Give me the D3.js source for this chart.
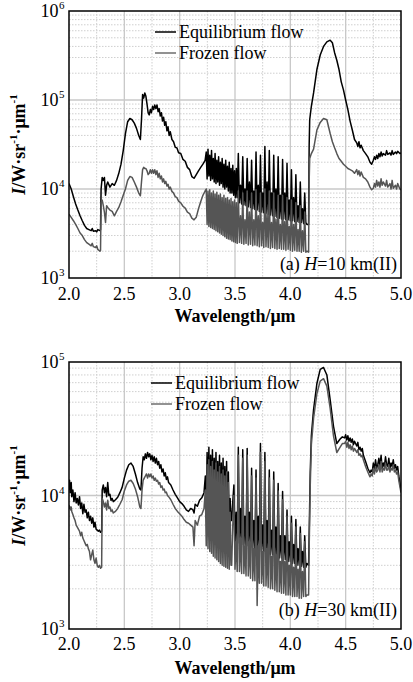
<!DOCTYPE html>
<html><head><meta charset="utf-8">
<script src="https://cdn.jsdelivr.net/npm/d3@7/dist/d3.min.js"></script>
<style>
body{margin:0;background:#fff}
svg{display:block}
text{font-family:"Liberation Serif","Times New Roman",serif;fill:#000}
</style>
</head><body>
<svg id="c" width="413" height="682"></svg>
<script>
// ---------- tick labels / text ----------
const xTicks = [2.0, 2.5, 3.0, 3.5, 4.0, 4.5, 5.0];
const xMinor = [2.25, 2.75, 3.25, 3.75, 4.25, 4.75];
const xTickLabels = ["2.0", "2.5", "3.0", "3.5", "4.0", "4.5", "5.0"];
const expsA = [3, 4, 5, 6];
const expsB = [3, 4, 5];
const seriesNames = ["Equilibrium flow", "Frozen flow"];
const panelTags = ["(a)", "(b)"];
const panelAlt = ["10", "30"];

// ---------- panel (a): H = 10 km ----------
const wlA = [
 2.00,2.02,2.04,2.06,2.08,2.10,2.12,2.14,2.16,2.18,
 2.20,2.21,2.22,2.24,2.25,2.26,2.28,2.285,2.29,2.30,
 2.31,2.32,2.33,2.34,2.35,2.37,2.39,2.41,2.43,2.45,
 2.47,2.49,2.51,2.53,2.55,2.57,2.59,2.61,2.63,2.645,
 2.655,2.665,2.675,2.685,2.695,2.705,2.715,2.725,2.735,2.745,
 2.755,2.765,2.775,2.785,2.795,2.805,2.815,2.825,2.835,2.845,
 2.855,2.865,2.875,2.885,2.895,2.905,2.915,2.93,2.945,2.96,
 2.975,2.99,3.01,3.03,3.05,3.07,3.09,3.11,3.13,3.15,
 3.17,3.19,3.21,3.23,
 3.240,3.248,3.256,3.264,3.272,3.280,3.288,3.296,3.304,3.312,
 3.320,3.328,3.336,3.344,3.352,3.360,3.368,3.376,3.384,3.392,
 3.400,3.408,3.416,3.424,3.432,3.440,3.448,3.456,3.464,3.472,
 3.480,3.488,3.496,3.504,3.512,3.520,
 3.53,3.54,3.55,3.56,3.57,3.58,3.59,3.60,3.61,3.62,
 3.63,3.64,3.65,3.66,3.67,3.68,3.69,3.70,3.71,3.72,
 3.73,3.74,3.75,3.76,3.77,3.78,3.79,3.80,3.81,3.82,
 3.83,3.84,3.85,3.86,3.87,3.88,3.89,3.90,3.91,3.92,
 3.93,3.94,3.95,3.96,3.97,3.98,3.99,4.00,4.01,4.02,
 4.03,4.04,4.05,4.06,4.07,4.08,4.09,4.10,4.11,4.12,
 4.13,4.14,4.15,4.165,
 4.17,4.175,4.19,4.21,4.24,4.27,4.30,4.33,4.36,4.38,
 4.40,4.42,4.44,4.46,4.48,4.50,4.52,4.54,4.56,4.58,
 4.60,4.61,4.62,4.63,4.64,4.66,4.68,4.70,4.72,4.735,
 4.75,4.76,4.77,4.78,4.79,4.80,4.81,4.82,4.83,4.84,
 4.86,4.87,4.88,4.90,4.91,4.92,4.93,4.95,4.96,4.97,
 4.99,5.00
];
const eqA = [
 11500,10000,8200,6800,5800,5000,4400,3900,3600,3500,
 3400,3600,3350,3400,3300,3500,3400,3500,10000,13500,
 12500,13500,8500,11000,12000,10500,11500,11000,12500,15000,
 19000,27000,42000,57000,62000,60000,55000,48000,40000,36000,
 60000,115000,105000,120000,110000,90000,72000,68000,78000,72000,
 85000,78000,88000,80000,88000,74000,80000,66000,72000,58000,
 64000,52000,57000,45000,50000,40000,44000,36000,34000,29500,
 29000,25500,25000,21500,20500,17500,16500,13800,13200,14500,
 16000,17500,19000,21000,
 26000,13000,28000,14000,24000,12500,27000,13000,22000,12000,
 25000,11500,21000,12000,23000,11000,20000,11500,22000,10500,
 19000,10000,21000,10500,18000,9500,20000,9000,17000,9000,
 18500,8500,16000,8000,17000,8000,
 25000,7000,11000,6800,23000,6600,10000,6500,22000,6300,
 12000,6200,21000,6000,9500,5900,26000,5800,11000,5600,
 24000,5500,9000,5400,30000,5300,12000,5200,27000,5100,
 9000,5000,24000,4900,10000,4800,23000,4700,8500,4600,
 21500,4600,9000,4500,19500,4500,7500,4400,16500,4400,
 8000,4300,14500,4300,6500,4200,12000,4200,6000,4100,
 9000,4200,4000,4000,
 30000,60000,85000,120000,220000,320000,400000,450000,470000,440000,
 340000,280000,220000,160000,130000,100000,78000,58000,46000,36000,
 33000,30000,34000,29000,31000,27000,25000,23000,20000,19000,
 21000,23000,21500,24000,22000,25000,23000,26000,23500,25000,
 24000,27000,24500,25500,24000,27000,24500,26000,25000,26500,
 25000,25500
];
const frA = [
 5200,4800,4400,4000,3600,3200,3000,2700,2500,2400,
 2300,2450,2250,2200,2300,2100,2000,2050,7000,7500,
 6500,5500,4200,6500,6200,5800,5600,5000,5600,6200,
 7200,8500,10000,12500,13800,13500,12000,10500,9000,8400,
 12000,16500,17500,17000,17000,16000,14500,15000,16500,15000,
 16500,15000,16500,14500,16000,13500,15000,13000,14000,12000,
 13000,11500,12200,10800,11300,10000,10500,9400,9000,8200,
 8000,7300,7000,6400,6100,5500,5300,4700,4500,4800,
 6000,7200,8500,9500,
 10000,4000,9500,3800,9800,3700,9000,3600,9500,3500,
 8800,3400,9200,3300,8500,3200,8800,3100,8000,3000,
 8500,2900,7800,2800,8000,2750,7500,2700,7800,2600,
 7200,2550,7500,2500,7000,2450,
 9500,2500,5000,2450,9000,2400,4500,2450,9500,2350,
 5500,2400,9000,2300,4500,2350,9800,2300,5000,2250,
 9000,2300,4200,2200,10000,2250,5200,2200,9500,2150,
 4200,2200,9000,2150,4600,2100,8500,2150,4000,2100,
 8500,2100,4300,2050,8000,2100,3800,2050,7500,2000,
 4000,2050,7000,2000,3500,2000,6500,1950,3400,2000,
 5500,1950,2000,1950,
 12000,22000,25000,28000,46000,56000,62000,60000,42000,34000,
 29000,25000,22000,20500,19000,18000,17000,16500,16000,15000,
 16500,14500,16000,14000,15500,13500,13000,12000,10500,9800,
 10200,11500,10500,12500,10800,12000,10500,13000,11000,12000,
 10800,12500,10500,11500,10000,12500,10200,11000,10000,11500,
 10000,9800
];

// ---------- panel (b): H = 30 km ----------
const wlB = [
 2.000,2.005,2.010,2.015,2.020,2.025,2.035,2.045,2.055,2.065,
 2.075,2.085,2.095,2.105,2.115,2.125,2.135,2.145,2.155,2.165,
 2.175,2.185,2.195,2.205,2.215,2.225,2.235,2.245,2.255,2.265,
 2.275,2.285,2.295,2.300,2.31,2.32,2.33,2.34,2.35,2.36,
 2.37,2.38,2.39,2.40,2.42,2.44,2.46,2.48,2.50,2.52,
 2.54,2.56,2.58,2.60,2.62,2.64,2.65,2.66,2.67,2.68,
 2.69,2.70,2.71,2.72,2.73,2.74,2.75,2.76,2.77,2.78,
 2.79,2.80,2.81,2.82,2.83,2.84,2.85,2.86,2.87,2.88,
 2.89,2.90,2.92,2.94,2.96,2.98,3.00,3.02,3.04,3.06,
 3.08,3.10,3.12,3.13,3.14,3.16,3.18,3.20,3.22,
 3.232,3.240,3.248,3.256,3.264,3.272,3.280,3.288,3.296,3.304,
 3.312,3.320,3.328,3.336,3.344,3.352,3.360,3.368,3.376,3.384,
 3.392,3.400,3.408,3.416,3.424,3.432,3.440,3.448,3.456,3.464,
 3.47,3.48,3.49,3.50,3.51,3.52,3.53,3.54,3.55,3.56,
 3.57,3.58,3.59,3.60,3.61,3.62,3.63,3.64,3.65,3.66,
 3.67,3.68,3.69,3.70,3.71,3.72,3.73,3.74,3.75,3.76,
 3.77,3.78,3.79,3.80,3.81,3.82,3.83,3.84,3.85,3.86,
 3.87,3.88,3.89,3.90,3.91,3.92,3.93,3.94,3.95,3.96,
 3.97,3.98,3.99,4.00,4.01,4.02,4.03,4.04,4.05,4.06,
 4.07,4.08,4.09,4.10,4.11,4.12,4.13,4.14,4.15,4.165,
 4.17,4.18,4.19,4.21,4.24,4.27,4.30,4.33,4.36,4.39,
 4.42,4.45,4.47,4.49,4.50,4.51,4.52,4.53,4.54,4.55,
 4.56,4.57,4.58,4.60,4.61,4.62,4.63,4.64,4.65,4.66,
 4.68,4.70,4.72,4.73,4.74,4.75,4.76,4.77,4.78,4.79,
 4.80,4.81,4.82,4.83,4.84,4.85,4.86,4.87,4.88,4.89,
 4.90,4.91,4.92,4.93,4.94,4.95,4.96,4.97,4.98,5.00
];
const eqB = [
 11000,13000,10500,10800,12500,9800,11000,9000,10500,8800,
 9500,8500,9800,8000,8800,7300,8600,7500,7800,6800,
 7500,6500,7000,6200,6800,5800,6300,5600,5500,5400,
 5500,5300,5400,11000,12000,10500,11500,9800,12500,10000,
 10200,9200,9500,9000,9300,9700,10500,11500,13500,15500,
 17000,17500,16500,14500,12500,11200,11000,16000,19500,18500,
 20500,19000,21000,19500,20500,18500,20000,18000,19500,17500,
 19000,17000,18000,16000,17000,15000,15800,14000,14800,13200,
 13800,12500,12000,11000,10200,9600,9000,8700,8300,7800,
 7600,8000,7800,7400,8600,8300,9200,9600,10500,
 14000,8500,21000,9000,23000,8000,20000,8500,22000,7800,
 19000,8000,21000,7500,18000,7600,20000,7200,17500,7000,
 19000,6800,16500,6500,18000,6200,15000,6000,9500,6500,
 6500,9000,12000,4500,7500,4400,23000,4400,8000,4300,
 22000,4300,7000,4200,22500,4200,7500,4100,16000,4000,
 6500,4000,15500,3900,7000,3900,24500,3800,6000,3800,
 21000,3700,6500,3700,15500,3600,5500,3600,15000,3500,
 5800,3500,12300,3400,5000,3400,10700,3300,5000,3300,
 7800,3200,4500,3200,7000,3100,4300,3100,6600,3000,
 4000,3000,5800,2950,3800,2900,5000,2900,3100,3000,
 5000,15000,28000,44000,69000,88000,91000,80000,52000,33000,
 24500,26500,27500,27000,28500,26000,28000,25500,27000,25000,
 26500,24000,25500,23500,25000,22000,23000,21500,22500,20000,
 18000,16000,14800,15500,15000,17500,15500,18500,16000,17000,
 19000,16500,20000,16000,17500,16500,19500,17000,16500,19000,
 16000,17500,16500,18500,16000,17000,15500,16500,14000,11000
];
const frB = [
 8500,8000,8200,7800,8200,7600,7200,6800,6500,6000,
 5800,5600,5400,5000,5300,4800,4600,4400,4200,4300,
 4000,3800,3300,3600,3900,3300,3100,3400,3000,2900,
 3000,2850,2900,9500,9000,8200,8800,7800,9200,8000,
 8200,7600,7800,7400,7600,8000,8600,9300,10800,12000,
 12800,13000,12300,11200,9800,8200,8000,11000,13000,13500,
 14000,14500,13500,14500,13800,14500,13500,14000,13000,13500,
 12800,13000,12200,12500,11500,11800,11000,11200,10500,10600,
 10000,9800,9300,8600,8000,7600,7300,7000,6600,6300,
 6200,6000,5800,4200,6500,6000,7000,7200,8000,
 11000,4200,17000,4000,18500,3800,16500,3700,18000,3500,
 15500,3400,17500,3300,15000,3200,16500,3100,14500,3000,
 15500,2950,14000,2900,15000,2850,12500,2800,7500,3000,
 3000,6000,10000,2800,4500,2700,20000,2700,4800,2600,
 19000,2600,4200,2500,20000,2500,4500,2400,14000,2300,
 4000,2300,13500,1500,4200,2200,21000,2200,3800,2100,
 18000,2100,4000,2050,13500,2000,3500,2000,13000,1950,
 3600,1900,10800,1900,3200,1850,9300,1850,3200,1800,
 7000,1800,3000,1800,6200,1750,2900,1750,5800,1750,
 2800,1700,5200,1700,2700,1750,4500,1750,1800,1800,
 4000,12000,24000,38000,58000,72000,75000,66000,45000,28000,
 21000,23000,24500,24500,25500,23000,25000,22500,24000,22000,
 23500,21500,22500,21000,22000,20000,20500,19500,20000,18500,
 16500,15000,13800,14500,14000,16000,14500,16500,15000,15500,
 17000,15000,18000,15000,16000,15500,17500,15500,15500,17000,
 15000,16000,15500,17000,15000,15500,14500,15000,13000,10500
];

// ---------- drawing ----------
const svg = d3.select("#c");
svg.append("rect").attr("width", 413).attr("height", 682).attr("fill", "#fff");
const colors = ["#000000", "#555555"];
const legendColors = ["#000000", "#6e6e6e"];

function drawPanel(o) {
  if (o.wl.length !== o.eq.length || o.wl.length !== o.fr.length)
    throw new Error("length mismatch " + o.key + " " + o.wl.length + " " + o.eq.length + " " + o.fr.length);
  const L = 69, R = 401;
  const x = d3.scaleLinear().domain([2, 5]).range([L, R]);
  const y = d3.scaleLog().domain([Math.pow(10, o.exps[0]), Math.pow(10, o.exps[o.exps.length - 1])]).range([o.bottom, o.top]);
  const g = svg.append("g");

  // minor grid
  const minorY = [];
  for (let i = 0; i < o.exps.length - 1; i++)
    for (let m = 2; m <= 9; m++) minorY.push(m * Math.pow(10, o.exps[i]));
  g.selectAll(".my").data(minorY).enter().append("line")
    .attr("x1", L).attr("x2", R).attr("y1", d => y(d)).attr("y2", d => y(d))
    .attr("stroke", "#cfcfcf").attr("stroke-width", 1).attr("stroke-dasharray", "1.5,1.5");
  g.selectAll(".mx").data(xMinor).enter().append("line")
    .attr("x1", d => x(d)).attr("x2", d => x(d)).attr("y1", o.top).attr("y2", o.bottom)
    .attr("stroke", "#cfcfcf").attr("stroke-width", 1).attr("stroke-dasharray", "1.5,1.5");
  // major grid
  g.selectAll(".gy").data(o.exps.slice(1, -1)).enter().append("line")
    .attr("x1", L).attr("x2", R).attr("y1", d => y(Math.pow(10, d))).attr("y2", d => y(Math.pow(10, d)))
    .attr("stroke", "#c8c8c8").attr("stroke-width", 1.3);
  g.selectAll(".gx").data(xTicks.slice(1, -1)).enter().append("line")
    .attr("x1", d => x(d)).attr("x2", d => x(d)).attr("y1", o.top).attr("y2", o.bottom)
    .attr("stroke", "#c8c8c8").attr("stroke-width", 1.3);

  // data lines
  const clipId = "clip" + o.key;
  svg.append("clipPath").attr("id", clipId).append("rect")
    .attr("x", L).attr("y", o.top).attr("width", R - L).attr("height", o.bottom - o.top);
  const line = d3.line().x(d => x(d[0])).y(d => y(d[1]));
  const eqPts = o.wl.map((w, i) => [w, o.eq[i]]);
  const frPts = o.wl.map((w, i) => [w, o.fr[i]]);
  const lg = g.append("g").attr("clip-path", "url(#" + clipId + ")");
  lg.append("path").attr("d", line(eqPts)).attr("fill", "none").attr("stroke", colors[0])
    .attr("stroke-width", 1.5).attr("stroke-linejoin", "round");
  lg.append("path").attr("d", line(frPts)).attr("fill", "none").attr("stroke", colors[1])
    .attr("stroke-width", 1.5).attr("stroke-linejoin", "round");

  // frame
  g.append("rect").attr("x", L).attr("y", o.top).attr("width", R - L).attr("height", o.bottom - o.top)
    .attr("fill", "none").attr("stroke", "#000").attr("stroke-width", 1.5);

  // x tick labels
  g.selectAll(".xt").data(xTicks).enter().append("text")
    .attr("x", d => x(d)).attr("y", o.bottom + o.xTickDy).attr("text-anchor", "middle")
    .attr("font-size", 18).text((d, i) => xTickLabels[i]);
  // y tick labels
  o.exps.forEach(e => {
    const yy = y(Math.pow(10, e));
    g.append("text").attr("x", 58.5).attr("y", yy + 6).attr("text-anchor", "end")
      .attr("font-size", 18).text("10");
    g.append("text").attr("x", 59).attr("y", yy - 2).attr("font-size", 11).text(String(e));
  });

  // axis titles
  g.append("text").attr("x", (L + R) / 2).attr("y", o.xTitleY).attr("text-anchor", "middle")
    .attr("font-size", 18).attr("font-weight", "bold").text("Wavelength/μm");
  const yt = g.append("text").attr("transform", "translate(25," + ((o.top + o.bottom) / 2) + ") rotate(-90)")
    .attr("text-anchor", "middle").attr("font-size", 18).attr("font-weight", "bold");
  yt.append("tspan").attr("font-style", "italic").text("I");
  yt.append("tspan").text("/W·sr");
  yt.append("tspan").attr("font-size", 11).attr("dy", -8).text("-1");
  yt.append("tspan").attr("dy", 8).text("·μm");
  yt.append("tspan").attr("font-size", 11).attr("dy", -8).text("-1");

  // legend
  seriesNames.forEach((n, i) => {
    const ly = o.legY + i * 21;
    g.append("line").attr("x1", o.legX).attr("x2", o.legX + 21).attr("y1", ly).attr("y2", ly)
      .attr("stroke", legendColors[i]).attr("stroke-width", 1.5);
    g.append("text").attr("x", o.legX + 24).attr("y", ly + 6).attr("font-size", 18).text(n);
  });

  // panel annotation
  const an = g.append("text").attr("x", 397).attr("y", o.annY).attr("text-anchor", "end").attr("font-size", 18);
  an.append("tspan").text(o.tag + " ");
  an.append("tspan").attr("font-style", "italic").text("H");
  an.append("tspan").text("=" + o.alt + " km(II)");
}

drawPanel({key: "A", wl: wlA, eq: eqA, fr: frA, exps: expsA, top: 11, bottom: 278,
  xTickDy: 22, xTitleY: 322, legX: 155, legY: 32, annY: 270, tag: panelTags[0], alt: panelAlt[0]});
drawPanel({key: "B", wl: wlB, eq: eqB, fr: frB, exps: expsB, top: 362, bottom: 629,
  xTickDy: 21, xTitleY: 674, legX: 151, legY: 383, annY: 616, tag: panelTags[1], alt: panelAlt[1]});
</script>
</body></html>
